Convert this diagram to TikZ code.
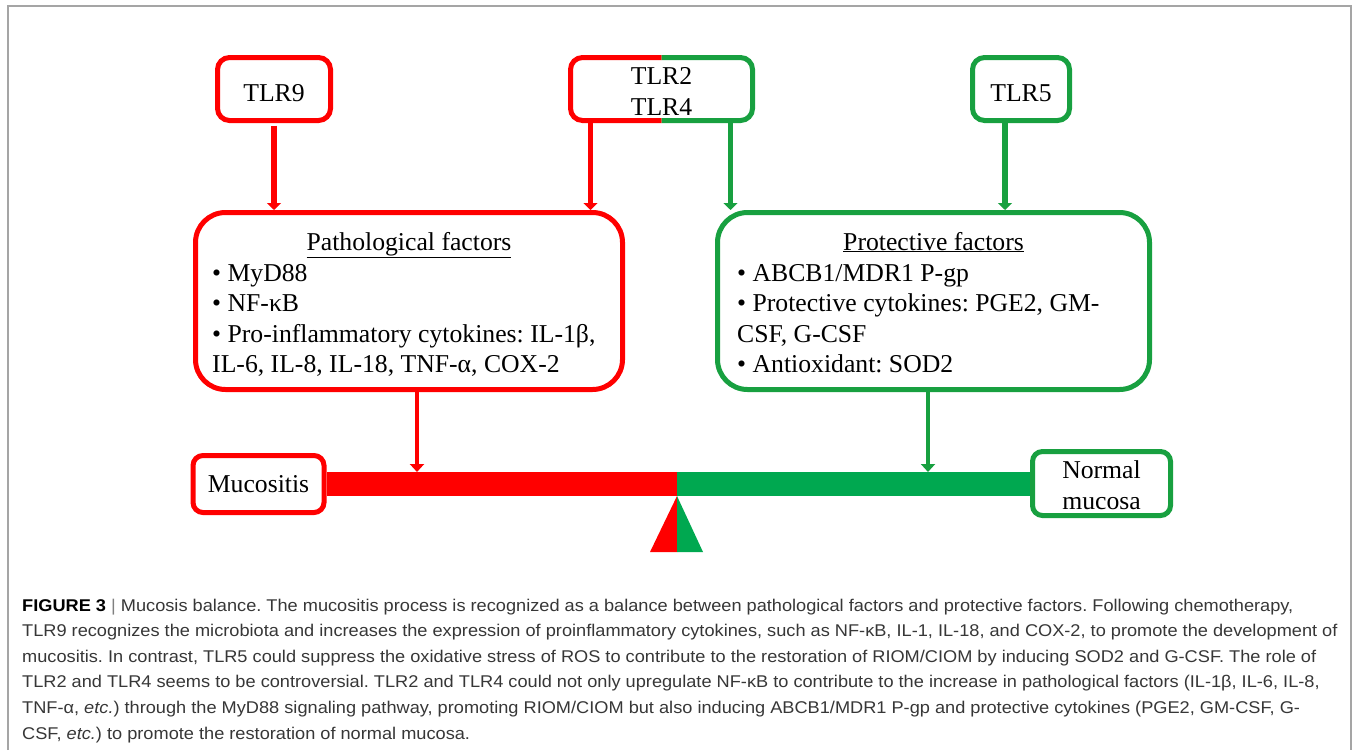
\documentclass[tikz,border=0pt]{standalone}
\usepackage{fontspec}
\setmainfont{Liberation Serif}
\newfontfamily\capfont[FakeStretch=1.07]{Liberation Sans}
\usetikzlibrary{arrows.meta,calc}
\definecolor{myred}{RGB}{255,0,0}
\definecolor{mygreen}{RGB}{0,168,80}
\definecolor{boxgreen}{RGB}{24,160,64}
\definecolor{framegray}{RGB}{165,165,165}
\definecolor{captxt}{RGB}{55,55,55}
\tikzset{
  rbox/.style={draw=myred, line width=5pt, rounded corners=#1, inner sep=0pt},
  gbox/.style={draw=boxgreen, line width=5pt, rounded corners=#1, inner sep=0pt},
  dtext/.style={font=\fontsize{25.7}{30}\selectfont, inner sep=0pt},
  itemtext/.style={font=\fontsize{25.7}{30}\selectfont, inner sep=0pt, anchor=base west},
  toparrow/.style={line width=5.5pt, -{Triangle[length=7pt,width=14pt]}},
  lowarrow/.style={line width=4pt, -{Triangle[length=8pt,width=14pt]}},
  captext/.style={anchor=base west, inner sep=0pt, text=captxt,
    font=\capfont\fontsize{17}{21}\selectfont},
}
\frenchspacing
\begin{document}
\begin{tikzpicture}[x=1pt,y=-1pt]
\useasboundingbox (0,0) rectangle (1356,750);
\fill[white] (0,0) rectangle (1356,750);
\draw[framegray, line width=1.5pt] (8,750) -- (8,6) -- (1351,6) -- (1351,750);

% top receptor boxes
\node[rbox=12pt, minimum width=113pt, minimum height=63pt] (tlr9) at (274,89) {};
\node[dtext, anchor=base] (tlr9t) at (274,101) {TLR9};
\node[outer sep=0pt, inner sep=0pt, minimum width=182pt, minimum height=63pt] (tlr24) at (661.5,89) {};
\begin{scope}
  \clip ([shift={(-10,-10)}]tlr24.north west) rectangle ([shift={(0,10)}]tlr24.south);
  \draw[myred, line width=5pt, rounded corners=12pt] (tlr24.north west) rectangle (tlr24.south east);
\end{scope}
\begin{scope}
  \clip ([shift={(0,-10)}]tlr24.north) rectangle ([shift={(10,10)}]tlr24.south east);
  \draw[boxgreen, line width=5pt, rounded corners=12pt] (tlr24.north west) rectangle (tlr24.south east);
\end{scope}
\node[dtext, anchor=base] (tlr2t) at (661.5,84) {TLR2};
\node[dtext, anchor=base] (tlr4t) at (661.5,115) {TLR4};
\node[gbox=12pt, minimum width=97pt, minimum height=63pt] (tlr5) at (1021,89) {};
\node[dtext, anchor=base] (tlr5t) at (1021,101) {TLR5};

% factor boxes
\node[rbox=30pt, minimum width=427pt, minimum height=177pt] (path) at (409,301) {};
\node[gbox=30pt, minimum width=432pt, minimum height=177pt] (prot) at (933.5,301) {};

\node[dtext, anchor=base] (pathhead) at (409,250) {\underline{Pathological factors}};
\node[itemtext] (p1) at (212,281) {• MyD88};
\node[itemtext] (p2) at (212,311.5) {• NF-κB};
\node[itemtext] (p3) at (212,342) {• Pro-inflammatory cytokines: IL-1β,};
\node[itemtext] (p4) at (212,372.5) {IL-6, IL-8, IL-18, TNF-α, COX-2};

\node[dtext, anchor=base] (prothead) at (933.5,250) {\underline{Protective factors}};
\node[itemtext] (q1) at (737,281) {• ABCB1/MDR1 P-gp};
\node[itemtext] (q2) at (737,311.5) {• Protective cytokines: PGE2, GM-};
\node[itemtext] (q3) at (737,342) {CSF, G-CSF};
\node[itemtext] (q4) at (737,372.5) {• Antioxidant: SOD2};

% connectors from receptors
\coordinate (a9) at ([yshift=-2.5pt]tlr9.south);
\draw[toparrow, myred] (a9) -- (a9 |- path.north);
\coordinate (a2r) at ([xshift=-71pt]tlr24.south);
\draw[toparrow, myred] (a2r) -- (a2r |- path.north);
\coordinate (a2g) at ([xshift=69pt]tlr24.south);
\draw[toparrow, boxgreen] (a2g) -- (a2g |- prot.north);
\coordinate (a5) at ([xshift=-16pt]tlr5.south);
\draw[toparrow, boxgreen] (a5) -- (a5 |- prot.north);

% balance
\node[rbox=10pt, dtext, minimum width=131pt, minimum height=57pt] (muc) at (258.5,484) {Mucositis};
\node[gbox=10pt, minimum width=138pt, minimum height=64pt] (norm) at (1101.5,483.5) {};
\node[dtext, anchor=base] (normt1) at (1101.5,478) {Normal};
\node[dtext, anchor=base] (normt2) at (1101.5,509) {mucosa};
\node[fill=myred, inner sep=0pt, outer sep=0pt, minimum width=350pt, minimum height=24pt] (redbar) at (502,484) {};
\node[fill=mygreen, inner sep=0pt, outer sep=0pt, minimum width=353pt, minimum height=24pt] (greenbar) at (853.5,484) {};
\coordinate (pivot) at (redbar.south east);
\fill[myred] (pivot) -- ++(-27,56) -- ++(27,0) -- cycle;
\fill[mygreen] (pivot) -- ++(26,56) -- ++(-26,0) -- cycle;

\coordinate (b1) at ([xshift=8pt]path.south);
\draw[lowarrow, myred] (b1) -- (b1 |- redbar.north);
\coordinate (b2) at ([xshift=-5.5pt]prot.south);
\draw[lowarrow, boxgreen] (b2) -- (b2 |- greenbar.north);

% caption
\node[captext] (cap1) at (22,611) {\textcolor{black}{\textbf{FIGURE 3}} \textcolor{gray}{|} Mucosis balance. The mucositis process is recognized as a balance between pathological factors and protective factors. Following chemotherapy,};
\node[captext] (cap2) at (22,636.6) {TLR9 recognizes the microbiota and increases the expression of proinflammatory cytokines, such as NF-κB, IL-1, IL-18, and COX-2, to promote the development of};
\node[captext] (cap3) at (22,662.2) {mucositis. In contrast, TLR5 could suppress the oxidative stress of ROS to contribute to the restoration of RIOM/CIOM by inducing SOD2 and G-CSF. The role of};
\node[captext] (cap4) at (22,687.8) {TLR2 and TLR4 seems to be controversial. TLR2 and TLR4 could not only upregulate NF-κB to contribute to the increase in pathological factors (IL-1β, IL-6, IL-8,};
\node[captext] (cap5) at (22,713.4) {TNF-α, \textit{etc.}) through the MyD88 signaling pathway, promoting RIOM/CIOM but also inducing ABCB1/MDR1 P-gp and protective cytokines (PGE2, GM-CSF, G-};
\node[captext] (cap6) at (22,739) {CSF, \textit{etc.}) to promote the restoration of normal mucosa.};
\end{tikzpicture}
\end{document}
